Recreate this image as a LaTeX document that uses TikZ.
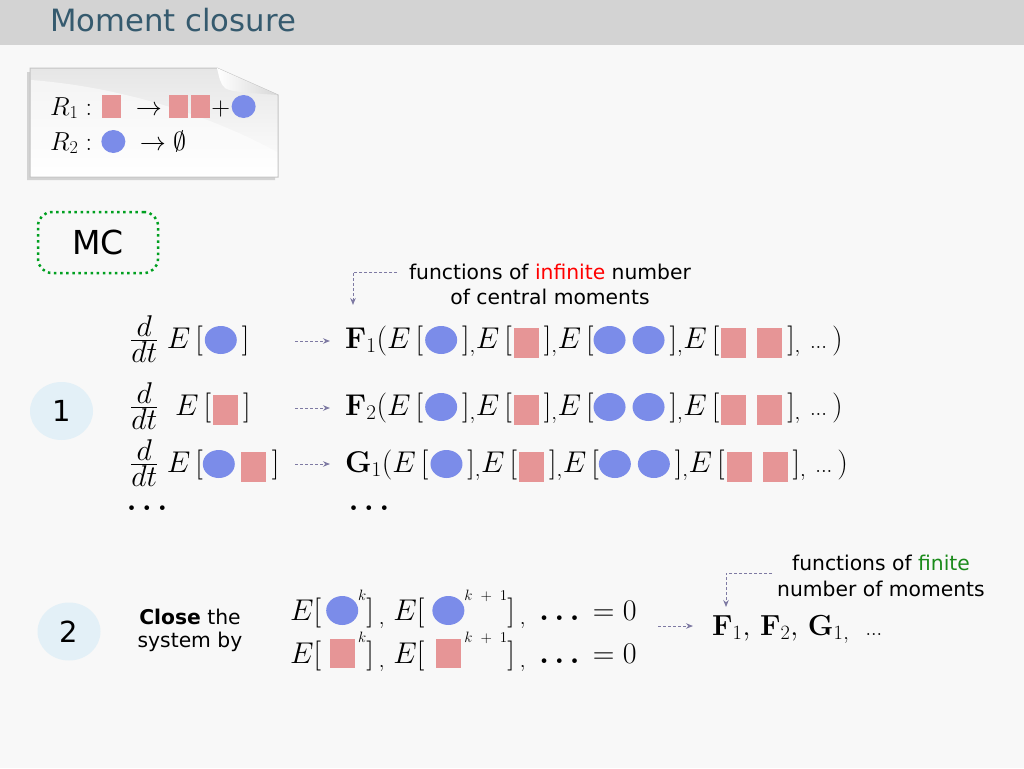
\RequirePackage{fix-cm}
\documentclass[tikz,border=0pt]{standalone}
\usepackage{amsmath}
\usepackage[no-math]{fontspec}
\usetikzlibrary{shapes.geometric,arrows.meta}
\newfontfamily\dejavu{DejaVu Sans}
\definecolor{bgc}{HTML}{F8F8F8}
\definecolor{barc}{HTML}{D3D3D3}
\definecolor{titlec}{HTML}{355A6E}
\definecolor{bluec}{HTML}{7B8CE9}
\definecolor{pinkc}{HTML}{E69596}
\definecolor{arrc}{HTML}{7E7AA3}
\definecolor{numc}{HTML}{E3F0F7}
\definecolor{mcc}{HTML}{00A020}
\definecolor{finc}{HTML}{1A8A1A}
\definecolor{notec}{HTML}{E6E6E6}
\definecolor{noteedge}{HTML}{C4C4C4}

% species glyphs: circle = blue species, square = pink species
\newsavebox\CircM \newsavebox\SqM
\newsavebox\CircS \newsavebox\SqS
\newsavebox\CircC \newsavebox\SqC
% #1 box, #2 half width, #3 centre height, #4 half height
\newcommand\makespot[4]{\sbox#1{\begin{pgfpicture}\pgfsetbaseline{0pt}%
  \pgfsetfillcolor{bluec}%
  \pgfpathellipse{\pgfpoint{#2}{#3}}{\pgfpoint{#2}{0pt}}{\pgfpoint{0pt}{#4}}%
  \pgfusepath{fill}\end{pgfpicture}}}
% #1 box, #2 depth, #3 width, #4 height
\newcommand\makeblock[4]{\sbox#1{\textcolor{pinkc}{\rule[-#2]{#3}{#4}}}}
\newcommand\ddt{\frac{\textstyle d}{\textstyle dt}}
\newcommand\Bc{\usebox\CircM}
\newcommand\Ps{\usebox\SqM}
\newcommand\rowargs{(E\,[\hspace{2pt}\Bc\,]_{,}E\,[\hspace{2pt}\Ps\,]_{,}E\,[\Bc\hspace{7pt}\Bc\,]_{,}E\,[\hspace{2pt}\Ps\hspace{11pt}\Ps\,]_{,}\ {\scriptstyle\ldots}\,)}
\newcommand\supk[2]{\raisebox{#1}{\fontsize{15}{15}\selectfont$#2$}}
\newcommand\kk{k\hspace{8pt}{+}\hspace{8pt}1}

\tikzset{
  mathtxt/.style={anchor=base west, inner sep=0pt, font=\fontsize{30}{36}\selectfont},
  notetxt/.style={anchor=base west, inner sep=0pt, font=\fontsize{26}{31}\selectfont},
  closetxt/.style={anchor=base west, inner sep=0pt, font=\fontsize{30}{36}\selectfont},
  sans/.style={inner sep=0pt, font=\dejavu\fontsize{20.3}{25}\selectfont},
  darr/.style={draw=arrc, line width=1pt, dash pattern=on 3pt off 2pt,
    -{Stealth[length=7pt,width=5.5pt]}},
  numcirc/.style={ellipse, fill=numc, minimum width=63pt, minimum height=58pt,
    inner sep=0pt, font=\dejavu\fontsize{29}{34}\selectfont},
  bigdots/.style={inner sep=0pt, font=\fontsize{30}{36}\selectfont},
}

\begin{document}
\makespot\CircM{16pt}{8pt}{14pt}
\makeblock\SqM{10pt}{25pt}{30pt}
\makespot\CircS{12pt}{8.5pt}{11.5pt}
\makeblock\SqS{3pt}{19pt}{23pt}
\makespot\CircC{16pt}{9.5pt}{14.5pt}
\makeblock\SqC{5pt}{25pt}{29pt}
\begin{tikzpicture}[x=1pt, y=-1pt]
\useasboundingbox (0,0) rectangle (1024,768);
\fill[bgc] (0,0) rectangle (1024,768);

% title bar
\fill[barc] (0,0) rectangle (1024,45);
\node[anchor=base west, inner sep=0pt, text=titlec, font=\dejavu\fontsize{30.7}{36}\selectfont]
  (title) at (50,32) {Moment closure};

% reaction note with folded corner
\fill[gray, opacity=0.3] (27,72) -- (214,72) -- (275,99) -- (275,180) -- (27,180) -- cycle;
\path[draw=noteedge, line width=1pt, top color=notec, bottom color=white]
  (30,68) -- (217,68) -- (278,95) -- (278,177) -- (30,177) -- cycle;
\fill[white, opacity=0.55] (31,80) .. controls (110,86) and (200,110) .. (277,152)
  -- (277,176) -- (31,176) -- cycle;
\path[left color=white, right color=notec!85!gray]
  (217,68) -- (278,95) .. controls (250,93) and (230,92) .. (225,88)
  .. controls (220,84) and (219,76) .. (217,68);
\node[notetxt] (r1) at (50,115)
  {$R_1:\hspace{3pt}\usebox\SqS\;\to\usebox\SqS\hspace{3pt}\usebox\SqS\!+\!\usebox\CircS$};
\node[notetxt] (r2) at (50,150)
  {$R_2:\hspace{2pt}\usebox\CircS\;\to\emptyset$};

% MC label
\node[draw=mcc, line width=2.5pt, dash pattern=on 2.5pt off 3.6pt, rounded corners=14pt,
  minimum width=120pt, minimum height=61pt, inner sep=0pt,
  font=\dejavu\fontsize{33}{40}\selectfont] (mc) at (98,242.5) {MC};

% step 1: moment equations
\node[numcirc] (n1) at (61.5,411) {1};

\node[sans, anchor=base] (inf1) at (550,279) {functions of \textcolor{red}{infinite} number};
\node[sans, anchor=base] (inf2) at (550,304) {of central moments};
\coordinate (infs) at (397,272);
\coordinate (infe) at (353,305);
\draw[darr] (infs) -| (infe);

\node[mathtxt] (l1) at (130,348) {$\ddt\;E\,[\hspace{2pt}\Bc\,]$};
\node[mathtxt] (l2) at (130,415) {$\ddt\;\;E\,[\hspace{2pt}\Ps\,]$};
\node[mathtxt] (l3) at (130,472) {$\ddt\;E\,[\Bc\hspace{6pt}\Ps\hspace{6pt}]$};

\node[mathtxt] (f1) at (345,348) {$\mathbf{F}_1\rowargs$};
\node[mathtxt] (f2) at (345,415) {$\mathbf{F}_2\rowargs$};
\node[mathtxt] (g1) at (345,472) {$\mathbf{G}_1\rowargs$};

\coordinate (a1s) at (295,341); \coordinate (a1e) at (330,341);
\coordinate (a2s) at (295,408); \coordinate (a2e) at (330,408);
\coordinate (a3s) at (295,464); \coordinate (a3e) at (330,464);
\draw[darr] (a1s) -- (a1e);
\draw[darr] (a2s) -- (a2e);
\draw[darr] (a3s) -- (a3e);

\node[bigdots] (ld) at (147,508) {$\boldsymbol{\ldots}$};
\node[bigdots] (rd) at (369,508) {$\boldsymbol{\ldots}$};

% step 2: closure
\node[numcirc] (n2) at (69,631.5) {2};
\node[sans, anchor=base] (cl1) at (190,624) {\textbf{Close} the};
\node[sans, anchor=base] (cl2) at (190,647) {system by};

\node[closetxt] (c1) at (290,620)
  {$E[\,\usebox\CircC\supk{20pt}{k}]\,{}_{,}\;E[\hspace{8pt}\usebox\CircC\supk{20pt}{\kk}]\,{}_{,}\;\,\boldsymbol{\ldots}\,=0$};
\node[closetxt] (c2) at (290,663)
  {$E[\,\hspace{3.5pt}\usebox\SqC\hspace{3.5pt}\supk{21pt}{k}]\,{}_{,}\;E[\hspace{8pt}\hspace{3.5pt}\usebox\SqC\hspace{3.5pt}\supk{21pt}{\kk}]\,{}_{,}\;\,\boldsymbol{\ldots}\,=0$};

\coordinate (a4s) at (658,626); \coordinate (a4e) at (693,626);
\draw[darr] (a4s) -- (a4e);

\node[anchor=base west, inner sep=0pt, font=\fontsize{29}{35}\selectfont] (fin) at (712,635)
  {$\mathbf{F}_1,\,\mathbf{F}_2,\,\mathbf{G}_1{}_{,}\;\;{\scriptstyle\ldots}$};

\node[sans, anchor=base] (fn1) at (881,570) {functions of \textcolor{finc}{finite}};
\node[sans, anchor=base] (fn2) at (881,596) {number of moments};
\coordinate (fns) at (772,573);
\coordinate (fne) at (726,607);
\draw[darr] (fns) -| (fne);
\end{tikzpicture}
\end{document}
